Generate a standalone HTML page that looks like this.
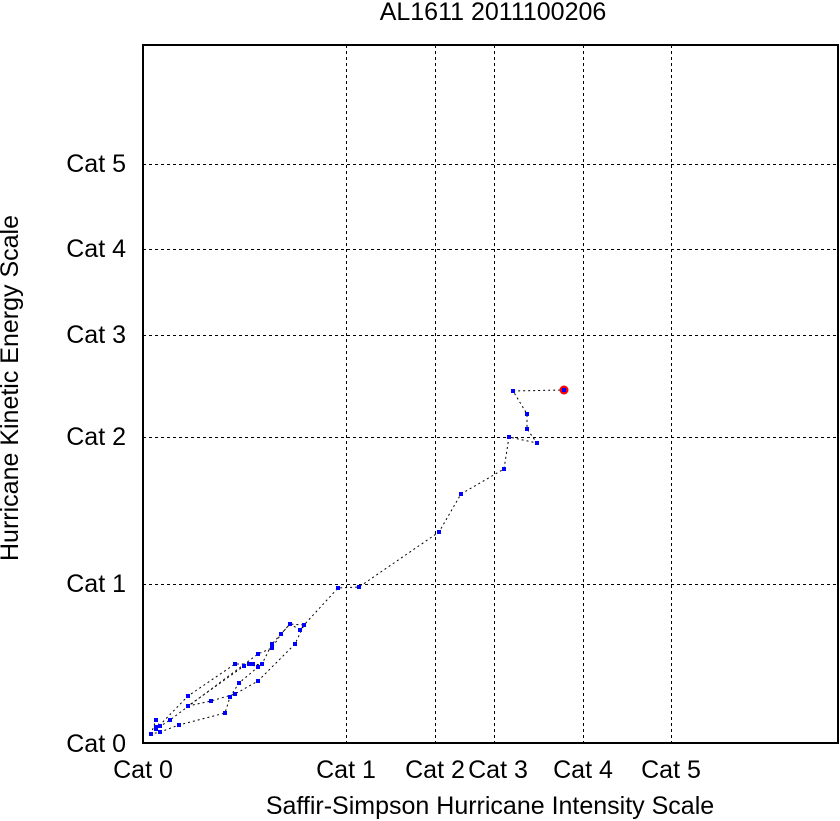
<!DOCTYPE html>
<html><head><style>html,body{margin:0;padding:0;background:#fff}svg{display:block}text{font-family:"Liberation Sans",sans-serif;font-size:25px;fill:#000}</style></head>
<body>
<svg width="840" height="821" xmlns="http://www.w3.org/2000/svg">
<g stroke="#000" stroke-width="1" stroke-dasharray="3,3">
<line x1="346.5" y1="45" x2="346.5" y2="743"/>
<line x1="435.5" y1="45" x2="435.5" y2="743"/>
<line x1="494.5" y1="45" x2="494.5" y2="743"/>
<line x1="583.5" y1="45" x2="583.5" y2="743"/>
<line x1="671.5" y1="45" x2="671.5" y2="743"/>
<line x1="143" y1="164.5" x2="838" y2="164.5"/>
<line x1="143" y1="249.5" x2="838" y2="249.5"/>
<line x1="143" y1="335.5" x2="838" y2="335.5"/>
<line x1="143" y1="437.5" x2="838" y2="437.5"/>
<line x1="143" y1="584.5" x2="838" y2="584.5"/>
</g>
<rect x="143" y="45" width="695" height="698" fill="none" stroke="#000" stroke-width="2"/>
<polyline fill="none" stroke="#000" stroke-width="1" stroke-dasharray="2,3" points="156,727 160,726 156,720 151,734 160,732 179,725 225,713 230,697 239,683 258,667 249,664 244,666 188,706 211,701 235,694 258,681 295,644 304,625 300,630 290,624 281,634 272,644 262,664 262,665 253,664 235,664 188,696 156,729 170,720 258,654 272,648 281,634 290,624 304,625 338,588 359,587 439,532 461,494 504,469 509,437 537,443 527,429 527,414 513,391 564,390"/>
<g fill="#0000ff">
<rect x="154" y="725" width="4" height="4"/><rect x="158" y="724" width="4" height="4"/><rect x="154" y="718" width="4" height="4"/><rect x="149" y="732" width="4" height="4"/><rect x="158" y="730" width="4" height="4"/><rect x="177" y="723" width="4" height="4"/><rect x="223" y="711" width="4" height="4"/><rect x="228" y="695" width="4" height="4"/><rect x="237" y="681" width="4" height="4"/><rect x="256" y="665" width="4" height="4"/><rect x="247" y="662" width="4" height="4"/><rect x="242" y="664" width="4" height="4"/><rect x="186" y="704" width="4" height="4"/><rect x="209" y="699" width="4" height="4"/><rect x="233" y="692" width="4" height="4"/><rect x="256" y="679" width="4" height="4"/><rect x="293" y="642" width="4" height="4"/><rect x="302" y="623" width="4" height="4"/><rect x="298" y="628" width="4" height="4"/><rect x="288" y="622" width="4" height="4"/><rect x="279" y="632" width="4" height="4"/><rect x="270" y="642" width="4" height="4"/><rect x="260" y="662" width="4" height="4"/><rect x="251" y="662" width="4" height="4"/><rect x="233" y="662" width="4" height="4"/><rect x="186" y="694" width="4" height="4"/><rect x="154" y="727" width="4" height="4"/><rect x="168" y="718" width="4" height="4"/><rect x="256" y="652" width="4" height="4"/><rect x="270" y="646" width="4" height="4"/><rect x="336" y="586" width="4" height="4"/><rect x="357" y="585" width="4" height="4"/><rect x="437" y="530" width="4" height="4"/><rect x="459" y="492" width="4" height="4"/><rect x="502" y="467" width="4" height="4"/><rect x="507" y="435" width="4" height="4"/><rect x="535" y="441" width="4" height="4"/><rect x="525" y="427" width="4" height="4"/><rect x="525" y="412" width="4" height="4"/><rect x="511" y="389" width="4" height="4"/>
</g>
<circle cx="564" cy="390" r="4.5" fill="#ff0000"/>
<rect x="562" y="388" width="4" height="4" fill="#0000ff"/>
<text x="493" y="20" text-anchor="middle">AL1611 2011100206</text>
<g text-anchor="end">
<text x="126" y="172">Cat 5</text><text x="126" y="257">Cat 4</text><text x="126" y="343">Cat 3</text><text x="126" y="445">Cat 2</text><text x="126" y="592">Cat 1</text><text x="126" y="752">Cat 0</text>
</g>
<g text-anchor="middle">
<text x="143" y="778">Cat 0</text><text x="346" y="778">Cat 1</text><text x="435" y="778">Cat 2</text><text x="498" y="778">Cat 3</text><text x="583" y="778">Cat 4</text><text x="671" y="778">Cat 5</text>
<text x="490" y="814">Saffir-Simpson Hurricane Intensity Scale</text>
<text transform="translate(18,388) rotate(-90)">Hurricane Kinetic Energy Scale</text>
</g>
</svg>
</body></html>
